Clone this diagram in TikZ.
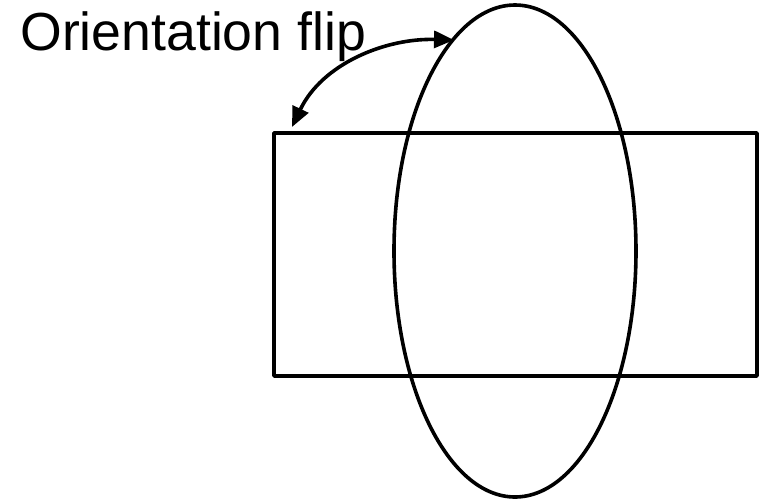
\documentclass[tikz,border=0pt]{standalone}
\usepackage{fontspec}
\setmainfont{Liberation Sans}
\usetikzlibrary{arrows.meta}

\begin{document}
\begin{tikzpicture}[x=0.5pt, y=-0.5pt, >={Triangle[length=10pt,width=8.5pt]}, line cap=round, line join=round]
\useasboundingbox (0,0) rectangle (762,500);

\draw[line width=1.8pt] (274,133) rectangle (757,376);
\draw[line width=1.8pt] (515,251) ellipse [x radius=121, y radius=246];
\node[anchor=base west, inner sep=0pt, font=\fontsize{26.8pt}{30pt}\selectfont] (label) at (20,50) {Orientation flip};
\coordinate (flipleft) at (292,127);
\coordinate (flipright) at (454,40);
\draw[<->, line width=1.8pt] (flipleft) .. controls (322,64) and (385,38) .. (flipright);

\end{tikzpicture}
\end{document}
